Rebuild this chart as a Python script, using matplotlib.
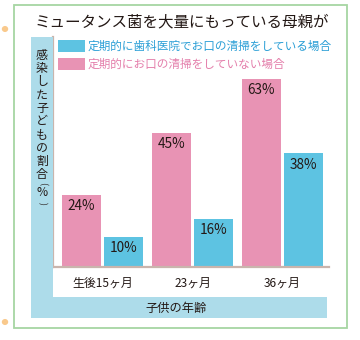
import matplotlib
matplotlib.use("Agg")
import matplotlib.pyplot as plt
from matplotlib.patches import Rectangle, Circle

plt.rcParams['font.family'] = ['Noto Sans CJK JP', 'DejaVu Sans']

# ---- data ----
title = "ミュータンス菌を大量にもっている母親が"
categories = ["生後15ヶ月", "23ヶ月", "36ヶ月"]
series_names = ["定期的にお口の清掃をしていない場合", "定期的に歯科医院でお口の清掃をしている場合"]
no_cleaning = [24, 45, 63]
with_cleaning = [10, 16, 38]
ylabel_chars = ["感", "染", "し", "た", "子", "ど", "も", "の", "割", "合", "(", "%", ")"]
xlabel = "子供の年齢"

PINK = "#e893b4"
BLUE = "#5dc3e2"
PINK_TXT = "#e47fab"
BLUE_TXT = "#2b9fd6"
BAND = "#addcea"
DARK = "#231815"

W, H = 360, 340
fig = plt.figure(figsize=(W / 100, H / 100), dpi=100)
fig.patch.set_facecolor("white")


def fx(x):
    return x / W


def fy(y):
    return 1 - y / H


def frect(x0, y0, x1, y1, **kw):
    r = Rectangle((fx(x0), fy(y1)), fx(x1) - fx(x0), fy(y0) - fy(y1),
                  transform=fig.transFigure, **kw)
    fig.patches.append(r)


# outer green frame
frect(14, 5, 347, 328, facecolor="none", edgecolor="#a6d6a2", lw=1.3)
# orange dots
for yy in (29, 322):
    fig.patches.append(Circle((fx(5), fy(yy)), 3.2 / W, transform=fig.transFigure,
                              facecolor="#f9c98c", edgecolor="none"))
# light blue L band
frect(31, 37, 53, 318, facecolor=BAND, edgecolor="none")
frect(31, 297, 327, 318, facecolor=BAND, edgecolor="none")

# axes
ax = fig.add_axes([fx(53), fy(267), fx(329) - fx(53), fy(37) - fy(267)])
ax.set_facecolor("none")
x = list(range(len(categories)))
bw = 0.433
off = 0.236
b1 = ax.bar([i - off for i in x], no_cleaning, width=bw, color=PINK)
b2 = ax.bar([i + off for i in x], with_cleaning, width=bw, color=BLUE)
ax.set_xlim(-0.55, 2.517)
ax.set_ylim(0, 77)
for bars, vals in ((b1, no_cleaning), (b2, with_cleaning)):
    for r, v in zip(bars, vals):
        ax.annotate(f"{v}%", (r.get_x() + r.get_width() / 2, v), xytext=(0, -8),
                    textcoords="offset points", ha="center", va="center",
                    fontsize=9.8, color=DARK)
for s in ("top", "right"):
    ax.spines[s].set_visible(False)
for s in ("left", "bottom"):
    ax.spines[s].set_color("#c9b5ad")
    ax.spines[s].set_linewidth(1.6)
ax.set_yticks([])
ax.set_xticks(x)
ax.set_xticklabels(categories, fontsize=8.6, color=DARK)
ax.tick_params(axis="x", length=0, pad=7)

# title
fig.text(fx(182), fy(21.5), title, ha="center", va="center", fontsize=11.2, color=DARK)

# legend (manual)
leg = [(BLUE, BLUE_TXT, series_names[1], 46), (PINK, PINK_TXT, series_names[0], 64)]
for fc, tc, lab, yc in leg:
    frect(58, yc - 6, 85, yc + 6, facecolor=fc, edgecolor="none")
    fig.text(fx(88), fy(yc), lab, ha="left", va="center", fontsize=8.4, color=tc)

# vertical y label (stacked characters, parentheses turned for vertical writing)
ys = [55 + 13.3 * i for i in range(10)] + [184, 193, 203]
for ch, yy in zip(ylabel_chars, ys):
    if ch in "()":
        fig.text(fx(42), fy(yy), ch, ha="center", va="center", fontsize=6.5,
                 color=DARK, rotation=-90)
    else:
        fig.text(fx(42), fy(yy), ch, ha="center", va="center", fontsize=8.6, color=DARK)

# x axis title
fig.text(fx(176), fy(308), xlabel, ha="center", va="center", fontsize=8.8, color=DARK)

fig.savefig("out.png", dpi=100, facecolor="white")
